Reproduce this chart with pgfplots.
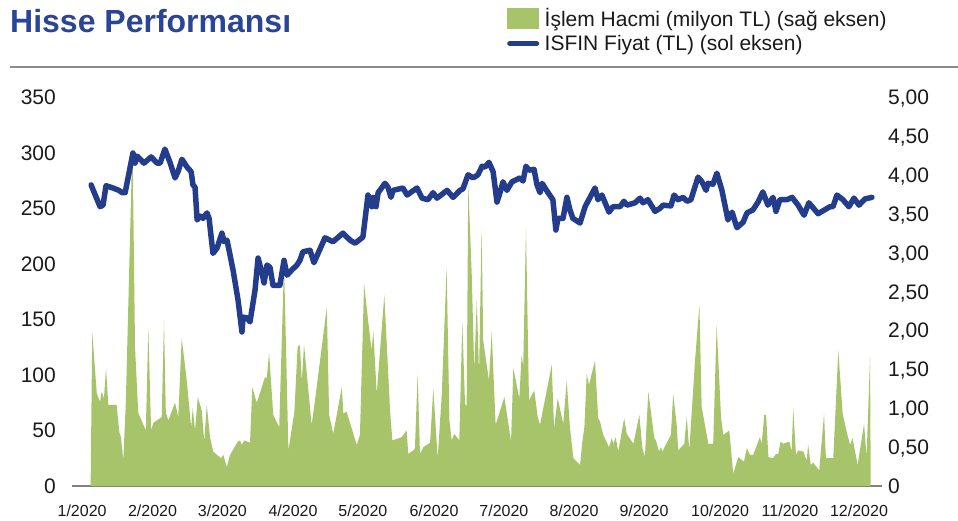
\documentclass[border=0pt]{standalone}
\usepackage{fontspec}
\setmainfont{Liberation Sans}
\usepackage{pgfplots}
\pgfplotsset{compat=1.18}
\usepackage{pgfplotstable}
\definecolor{volgreen}{HTML}{A8C46A}
\definecolor{lineblue}{HTML}{233D8C}
\definecolor{titleblue}{HTML}{2B4596}
\definecolor{txt}{HTML}{1A1A1A}

\pgfplotstableread{
d v
2.0 0
2.7 138
4.7 83
6.1 76
6.8 85
7.8 79
8.7 106
9.7 73
13.3 73
14.5 48
15.2 44
16.2 23
17.3 75
19.9 287
20.3 298
21.3 125
22.7 66
26.0 50
27.1 142
28.3 50
29.3 57
32.2 61
32.9 62
33.9 149
34.7 66
35.8 59
38.7 75
40.1 62
41.6 133
43.8 95
45.7 53
46.4 70
47.4 50
48.6 80
50.3 68
51.4 40
52.5 73
53.9 44
55.3 31
58.7 25
59.7 28
61.2 17
62.6 28
66.0 40
67.0 41
67.7 37
68.8 41
71.3 39
72.3 89
74.2 75
75.7 84
77.8 98
78.6 97
79.6 120
81.4 64
84.0 53
86.1 200
88.0 32
90.6 67
92.0 125
93.0 127
93.8 94
94.8 127
98.1 55
99.3 73
104.7 161
105.7 64
107.5 47
111.2 89
111.9 65
113.3 67
117.7 37
119.1 46
120.9 182
122.7 148
124.2 122
124.9 140
126.4 83
129.7 172
132.2 68
133.2 41
137.3 44
139.4 50
140.1 29
142.3 32
143.0 34
144.2 101
145.2 29
146.7 35
149.6 39
151.0 88
152.9 25
154.7 83
156.8 197
158.0 59
159.0 41
160.1 47
162.3 41
163.6 148
164.8 74
165.5 71
166.2 271
167.7 191
168.8 104
169.9 167
170.9 101
172.0 232
172.7 131
175.2 95
176.4 139
178.1 55
181.9 80
184.8 40
185.8 106
188.4 79
189.4 118
190.1 108
191.3 232
192.6 77
194.9 86
196.4 62
197.4 55
202.5 109
203.5 52
205.1 79
207.5 56
209.0 95
210.4 53
211.9 25
214.8 19
215.8 40
216.7 53
217.7 101
218.7 91
221.3 113
222.7 61
223.5 58
224.9 46
227.4 35
228.6 43
229.3 38
230.3 44
231.4 31
234.0 61
235.1 47
238.0 38
240.6 64
241.9 34
243.0 26
244.5 85
247.1 43
247.8 41
249.1 31
250.0 35
250.6 31
254.3 46
255.3 83
256.8 56
257.5 32
260.1 38
261.2 62
262.3 32
264.8 113
266.7 163
267.7 71
270.6 38
272.7 38
274.2 145
276.1 62
277.1 46
279.7 50
281.4 11
283.6 26
286.1 22
287.3 34
288.7 28
290.1 28
293.0 44
293.8 38
294.9 64
295.7 64
296.7 26
298.8 25
300.0 29
301.0 29
302.0 40
303.2 38
305.8 40
306.8 31
307.5 70
308.7 28
309.7 32
311.9 31
313.3 23
314.0 37
315.1 19
316.2 21
318.8 14
320.9 65
321.7 25
324.9 25
327.1 122
329.0 65
330.7 49
332.2 37
333.3 43
335.5 19
338.3 56
339.4 26
340.9 116
341.2 0
}\voltable

\pgfplotstableread{
d p
2.2 3.87
6.1 3.59
7.4 3.61
8.7 3.86
11.7 3.83
14.3 3.80
15.7 3.77
17.0 3.77
20.4 4.28
21.3 4.15
22.2 4.24
25.2 4.15
28.3 4.23
30.9 4.15
32.2 4.15
34.3 4.33
36.5 4.16
38.7 3.96
40.0 4.04
41.7 4.20
43.9 4.10
45.7 4.04
46.5 3.87
47.4 3.84
48.3 3.42
49.6 3.47
50.9 3.44
52.6 3.51
53.5 3.44
55.2 2.99
57.0 3.06
59.1 3.25
60.0 3.14
61.3 3.16
63.9 2.78
66.1 2.39
67.8 1.98
68.3 2.17
70.0 2.16
71.3 2.11
73.5 2.52
74.8 2.93
76.5 2.74
77.4 2.61
78.7 2.84
80.0 2.81
81.3 2.58
84.3 2.58
86.1 2.90
87.4 2.71
89.6 2.78
91.7 2.84
93.0 2.90
94.3 3.01
97.4 3.03
99.1 2.87
100.9 2.99
103.9 3.19
107.4 3.14
111.7 3.25
114.8 3.16
117.0 3.12
120.4 3.20
122.6 3.74
124.3 3.59
124.8 3.71
126.1 3.59
127.0 3.77
130.0 3.89
131.3 3.84
132.6 3.71
133.5 3.80
137.8 3.83
139.6 3.74
143.9 3.83
146.1 3.70
148.7 3.68
150.9 3.77
152.6 3.70
157.0 3.80
159.6 3.71
162.6 3.80
163.9 3.82
166.1 4.00
168.3 3.96
170.4 4.00
172.2 4.11
173.5 4.10
175.2 4.16
177.0 4.04
178.7 3.65
180.0 3.77
181.3 3.91
183.0 3.80
185.2 3.91
188.7 3.96
190.0 3.92
191.3 4.11
192.6 4.06
194.8 4.07
196.1 3.87
197.4 3.77
198.3 3.89
200.9 3.77
203.0 3.68
204.3 3.29
205.2 3.44
207.4 3.44
209.1 3.71
210.4 3.55
211.7 3.44
214.8 3.38
217.0 3.59
221.3 3.83
222.6 3.68
224.3 3.74
227.4 3.52
229.1 3.59
232.2 3.59
233.9 3.66
235.2 3.61
238.7 3.64
240.9 3.70
242.2 3.64
244.3 3.68
247.4 3.53
249.6 3.57
250.9 3.61
254.3 3.60
255.7 3.74
257.4 3.68
259.6 3.71
261.3 3.66
263.0 3.68
266.1 3.97
267.8 3.91
269.6 3.80
270.4 3.89
272.6 3.88
274.3 4.02
276.5 3.80
279.1 3.42
280.9 3.52
283.0 3.32
285.7 3.39
287.4 3.51
290.0 3.55
292.2 3.65
294.3 3.78
296.5 3.61
298.7 3.71
300.0 3.53
301.7 3.68
304.8 3.68
307.0 3.71
309.6 3.61
312.2 3.48
314.3 3.64
318.3 3.50
323.5 3.59
324.8 3.59
326.5 3.74
329.1 3.68
331.7 3.59
333.9 3.70
336.1 3.61
338.7 3.69
341.7 3.71
}\pricetable

\begin{document}
\begin{tikzpicture}
\useasboundingbox (0,0) rectangle (958pt,-521pt);
\node[anchor=base west, inner sep=0pt, text=titleblue, font=\bfseries\fontsize{32}{38}\selectfont] at (10pt,-33pt) {Hisse Performansı};
\draw[color=black!45, line width=2.5pt] (10pt,-67pt) -- (958pt,-67pt);

\begin{axis}[
  at={(72pt,-486pt)}, anchor=south west,
  scale only axis, width=810pt, height=389pt,
  xmin=-6.1, xmax=346.1, ymin=0, ymax=350,
  axis x line*=bottom, axis y line*=left,
  x axis line style={color=black!50, line width=1.5pt},
  y axis line style={draw=none},
  major tick length=0pt,
  xtick={-1.7,28.9,59.3,90,120.4,151.3,181.7,212.2,242.6,275.7,306.1,336.1},
  xticklabels={1/2020,2/2020,3/2020,4/2020,5/2020,6/2020,7/2020,8/2020,9/2020,10/2020,11/2020,12/2020},
  xticklabel style={anchor=north, inner sep=0pt, yshift=-19pt, text=txt, font=\fontsize{16}{19}\selectfont},
  ytick={0,50,...,350},
  yticklabel style={anchor=base east, inner sep=0pt, xshift=-16pt, yshift=-7.5pt, text=txt, font=\fontsize{21}{25}\selectfont},
  /pgf/number format/assume math mode=true,
  legend style={at={(0.537,1.232)}, anchor=north west, draw=none, fill=none, inner sep=0pt,
    font=\fontsize{21}{25}\selectfont, text=txt, row sep=4pt,
    nodes={inner sep=1.5pt},
    /tikz/every odd column/.append style={column sep=4pt}},
  legend cell align=left,
]
\addplot[fill=volgreen, draw=none,
  legend image code/.code={\fill[volgreen] (0pt,-10.5pt) rectangle (32pt,10.5pt);}]
  table[x=d, y=v] {\voltable} \closedcycle;
\addlegendentry{İşlem Hacmi (milyon TL) (sağ eksen)}
\addlegendimage{legend image code/.code={\draw[lineblue, line width=5pt, line cap=round] (2.5pt,0pt) -- (29.5pt,0pt);}}
\addlegendentry{ISFIN Fiyat (TL) (sol eksen)}
\end{axis}

\begin{axis}[
  at={(72pt,-486pt)}, anchor=south west,
  scale only axis, width=810pt, height=389pt,
  xmin=-6.1, xmax=346.1, ymin=0, ymax=5,
  axis x line=none, axis y line*=right,
  y axis line style={draw=none},
  major tick length=0pt,
  ytick={0,0.5,...,5},
  yticklabels={0,{0,50},{1,00},{1,50},{2,00},{2,50},{3,00},{3,50},{4,00},{4,50},{5,00}},
  yticklabel style={anchor=base west, inner sep=0pt, xshift=6pt, yshift=-7.5pt, text=txt, font=\fontsize{21}{25}\selectfont},
]
\addplot[lineblue, line width=5.5pt, line join=round, line cap=round] table[x=d, y=p] {\pricetable};
\end{axis}
\end{tikzpicture}
\end{document}
